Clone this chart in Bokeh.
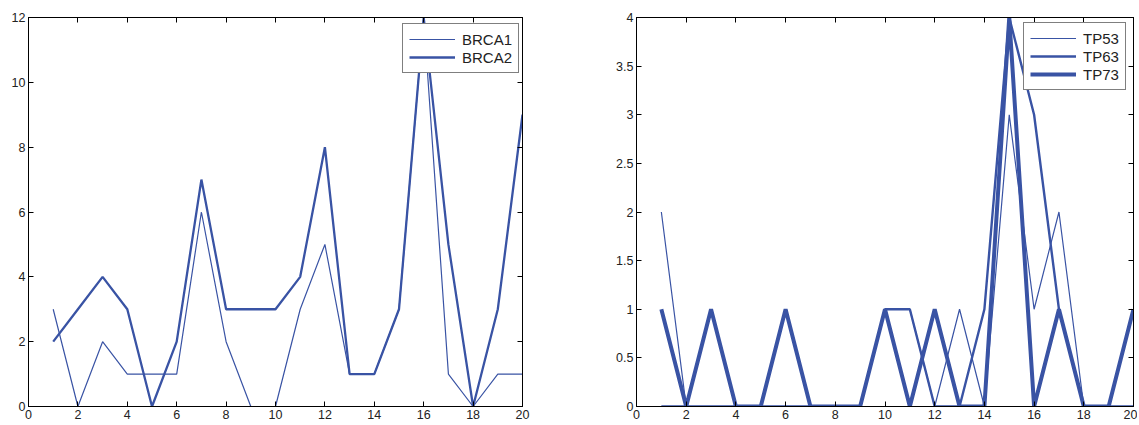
from bokeh.plotting import figure
from bokeh.models import Range1d, FixedTicker, LinearAxis, Legend, LegendItem
from bokeh.layouts import row
from bokeh.embed import file_html
from bokeh.resources import INLINE

x = list(range(1, 21))
brca1 = [3, 0, 2, 1, 1, 1, 6, 2, 0, 0, 3, 5, 1, 1, 3, 12, 1, 0, 1, 1]
brca2 = [2, 3, 4, 3, 0, 2, 7, 3, 3, 3, 4, 8, 1, 1, 3, 12, 5, 0, 3, 9]
tp53 = [2, 0, 0, 0, 0, 0, 0, 0, 0, 1, 1, 0, 1, 0, 3, 1, 2, 0, 0, 0]
tp63 = [0, 0, 0, 0, 0, 0, 0, 0, 0, 1, 1, 0, 0, 1, 4, 3, 1, 0, 0, 0]
tp73 = [1, 0, 1, 0, 0, 1, 0, 0, 0, 1, 0, 1, 0, 0, 4, 0, 1, 0, 0, 1]

x_ticks = [0, 2, 4, 6, 8, 10, 12, 14, 16, 18, 20]
left_y_ticks = [0, 2, 4, 6, 8, 10, 12]
right_y_ticks = [0, 0.5, 1, 1.5, 2, 2.5, 3, 3.5, 4]
right_y_labels = ["0", "0.5", "1", "1.5", "2", "2.5", "3", "3.5", "4"]

BLUE = "#3953a4"
FONT = "Liberation Sans"


def style_axes(p, yticks, ylabels=None):
    p.xaxis.ticker = FixedTicker(ticks=x_ticks)
    p.yaxis.ticker = FixedTicker(ticks=yticks)
    if ylabels:
        p.yaxis.major_label_overrides = {t: l for t, l in zip(yticks, ylabels)}
    for ax in [p.xaxis[0], p.yaxis[0]]:
        ax.major_tick_in = 5
        ax.major_tick_out = 0
        ax.minor_tick_in = 0
        ax.minor_tick_out = 0
        ax.axis_line_color = "black"
        ax.major_tick_line_color = "black"
        ax.major_label_text_font = FONT
        ax.major_label_text_font_size = "12.5px"
        ax.major_label_text_color = "#222222"
        ax.major_label_standoff = 3
    # top and right tick-only axes (no labels)
    top = LinearAxis(ticker=FixedTicker(ticks=x_ticks))
    right = LinearAxis(ticker=FixedTicker(ticks=yticks))
    for ax in [top, right]:
        ax.major_tick_in = 5
        ax.major_tick_out = 0
        ax.minor_tick_in = 0
        ax.minor_tick_out = 0
        ax.axis_line_color = "black"
        ax.major_tick_line_color = "black"
        ax.major_label_text_color = None
        ax.major_label_text_font_size = "1px"
        ax.major_label_standoff = 0
    p.add_layout(top, "above")
    p.add_layout(right, "right")
    p.xgrid.visible = False
    p.ygrid.visible = False
    p.outline_line_color = "black"


def make_fig(ymax, bl, fw, br):
    p = figure(frame_width=fw, frame_height=389,
               x_range=Range1d(0, 20), y_range=Range1d(0, ymax),
               output_backend="svg", toolbar_location=None,
               min_border_left=bl, min_border_right=br,
               min_border_top=17, min_border_bottom=19)
    p.background_fill_color = "white"
    p.border_fill_color = "white"
    return p


p1 = make_fig(12, 28, 494, 48)
style_axes(p1, left_y_ticks)
r1 = p1.line(x, brca1, line_color=BLUE, line_width=1.2)
r2 = p1.line(x, brca2, line_color=BLUE, line_width=2.3)
leg1 = Legend(items=[LegendItem(label="BRCA1", renderers=[r1]),
                     LegendItem(label="BRCA2", renderers=[r2])],
              location=(374, 333))

p2 = make_fig(4, 66, 497, 4)
style_axes(p2, right_y_ticks, right_y_labels)
r3 = p2.line(x, tp53, line_color=BLUE, line_width=1.2)
r4 = p2.line(x, tp63, line_color=BLUE, line_width=2.4)
r5 = p2.line(x, tp73, line_color=BLUE, line_width=4)
leg2 = Legend(items=[LegendItem(label="TP53", renderers=[r3]),
                     LegendItem(label="TP63", renderers=[r4]),
                     LegendItem(label="TP73", renderers=[r5])],
              location=(387, 316))

for p, leg in [(p1, leg1), (p2, leg2)]:
    leg.margin = 0
    leg.padding = 6
    leg.spacing = 0
    leg.glyph_width = 46
    leg.glyph_height = 18
    leg.label_height = 18
    leg.label_standoff = 7
    leg.label_text_font = FONT
    leg.label_text_font_size = "15px"
    leg.label_text_color = "#222222"
    leg.border_line_color = "black"
    leg.border_line_width = 1.2
    leg.background_fill_alpha = 1
    p.add_layout(leg, "center")

layout = row(p1, p2)
open("out.html", "w").write(file_html(layout, INLINE))
